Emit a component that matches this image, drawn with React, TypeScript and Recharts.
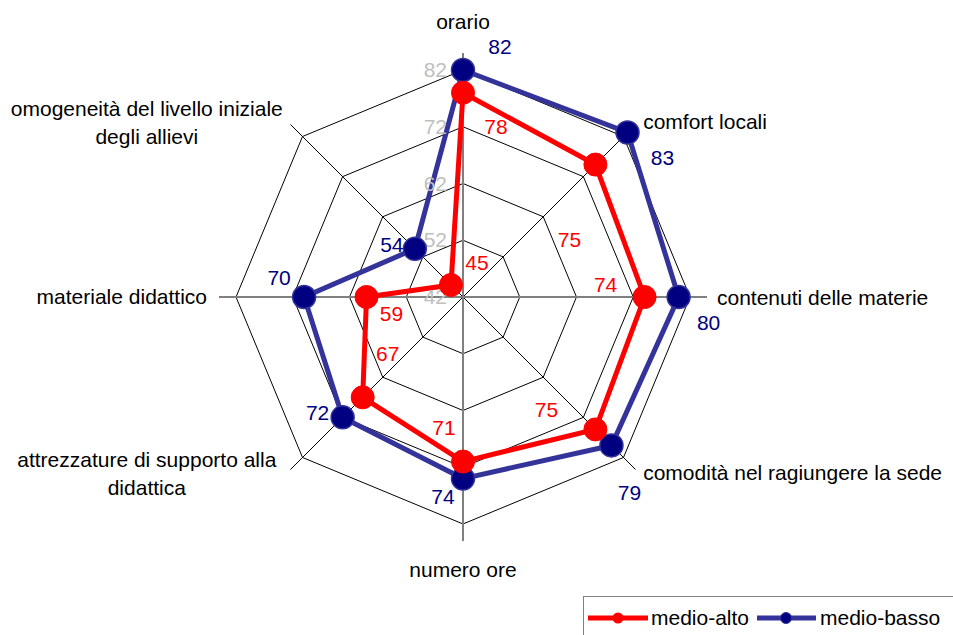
import {
  Legend,
  LabelList,
  PolarAngleAxis,
  PolarGrid,
  PolarRadiusAxis,
  Radar,
  RadarChart,
} from "recharts";

const categories = [
  "orario",
  "comfort locali",
  "contenuti delle materie",
  "comodità nel ragiungere la sede",
  "numero ore",
  "attrezzature di supporto alla\ndidattica",
  "materiale didattico",
  "omogeneità del livello iniziale\ndegli allievi",
];
const medioAlto = [78, 75, 74, 75, 71, 67, 59, 45];
const medioBasso = [82, 83, 80, 79, 74, 72, 70, 54];
const radiusTicks = [42, 52, 62, 72, 82];

const data = categories.map((category, i) => ({
  category,
  medioAlto: medioAlto[i],
  medioBasso: medioBasso[i],
}));

const FONT = "Arial, 'Liberation Sans', sans-serif";
const RED = "#FF0000";
const BLUE = "#333399";
const NAVY = "#000080";

// where each category label sits relative to the axis end
const catLayout = [
  { anchor: "middle", dx: 0, dy: -23 },
  { anchor: "start", dx: 2, dy: 3 },
  { anchor: "start", dx: 2, dy: 1 },
  { anchor: "start", dx: 2, dy: -2 },
  { anchor: "middle", dx: 0, dy: 21 },
  { anchor: "middle", dx: -138, dy: -1 },
  { anchor: "end", dx: -4, dy: 0 },
  { anchor: "middle", dx: -138, dy: 4 },
];

// data label offsets from each point
const redOffsets = [
  [33, 34], [-26, 75], [-39, -12], [-49, -19], [-19, -34], [25, -43], [25, 17], [26, -22],
];
const blueOffsets = [
  [37, -23], [35, 26], [30, 26], [18, 48], [-20, 18], [-25, -4], [-25, -19], [-23, -4],
];

function AngleTick(props: any) {
  const { x, y, payload, index } = props;
  const l = catLayout[index] ?? { anchor: "middle", dx: 0, dy: 0 };
  const lines = String(payload.value).split("\n");
  const lh = 28;
  const top = y + l.dy - ((lines.length - 1) * lh) / 2 + 7;
  return (
    <text textAnchor={l.anchor} fontSize={21} fill="#000" fontFamily={FONT}>
      {lines.map((ln, k) => (
        <tspan key={k} x={x + l.dx} y={top + k * lh}>
          {ln}
        </tspan>
      ))}
    </text>
  );
}

function RadiusTick(props: any) {
  const { x, y, payload } = props;
  return (
    <text x={x - 16} y={y + 7} textAnchor="end" fill="#C0C0C0" fontSize={21} fontFamily={FONT}>
      {payload.value}
    </text>
  );
}

const makeLabel = (offsets: number[][], color: string) => (props: any) => {
  const { value, index } = props;
  const x = props.x ?? props.viewBox?.x;
  const y = props.y ?? props.viewBox?.y;
  const off = offsets[index] ?? [0, 0];
  return (
    <text
      x={x + off[0]}
      y={y + off[1] + 7}
      textAnchor="middle"
      fill={color}
      fontSize={21}
      fontFamily={FONT}
    >
      {value}
    </text>
  );
};

function LegendBox() {
  return (
    <svg width={380} height={45} style={{ display: "block" }}>
      <line x1={0.5} y1={0} x2={0.5} y2={45} stroke="#808080" />
      <line x1={0} y1={0.5} x2={380} y2={0.5} stroke="#808080" />
      <line x1={5} y1={22} x2={65} y2={22} stroke={RED} strokeWidth={5} />
      <circle cx={35} cy={22} r={5.5} fill={RED} />
      <text x={68} y={29} fontSize={21} fontFamily={FONT} fill="#000">
        medio-alto
      </text>
      <line x1={174} y1={22} x2={233} y2={22} stroke={BLUE} strokeWidth={5} />
      <circle cx={203} cy={22} r={5.5} fill={NAVY} stroke={BLUE} />
      <text x={237} y={29} fontSize={21} fontFamily={FONT} fill="#000">
        medio-basso
      </text>
    </svg>
  );
}

export default function App() {
  return (
    <div style={{ position: "absolute", left: 0, top: 0, width: 953, height: 635, background: "#fff" }}>
      <RadarChart
        width={953}
        height={635}
        data={data}
        cx={463}
        cy={297}
        outerRadius={244}
        startAngle={90}
        endAngle={-270}
        margin={{ top: 0, right: 0, bottom: 0, left: 0 }}
      >
        <PolarGrid gridType="polygon" stroke="#000" strokeWidth={1} strokeOpacity={1} />
        <PolarGrid
          gridType="polygon"
          polarAngles={[90, 0, -90, -180]}
          polarRadius={[]}
          stroke="#808080"
          strokeWidth={2}
          strokeOpacity={1}
        />
        <PolarAngleAxis
          dataKey="category"
          axisLine={false}
          tickLine={false}
          tick={<AngleTick />}
        />
        <PolarRadiusAxis
          angle={90}
          type="number"
          domain={[42, 85]}
          ticks={radiusTicks}
          axisLine={false}
          tickLine={false}
          tick={<RadiusTick />}
        />
        <Radar
          name="medio-basso"
          dataKey="medioBasso"
          stroke={BLUE}
          strokeWidth={5}
          fill="none"
          fillOpacity={0}
          dot={{ r: 11.5, fill: NAVY, stroke: BLUE, strokeWidth: 1.5, fillOpacity: 1 }}
          isAnimationActive={false}
        >
          <LabelList dataKey="medioBasso" content={makeLabel(blueOffsets, NAVY)} />
        </Radar>
        <Radar
          name="medio-alto"
          dataKey="medioAlto"
          stroke={RED}
          strokeWidth={5}
          fill="none"
          fillOpacity={0}
          dot={{ r: 11.5, fill: RED, stroke: RED, strokeWidth: 1, fillOpacity: 1 }}
          isAnimationActive={false}
        >
          <LabelList dataKey="medioAlto" content={makeLabel(redOffsets, RED)} />
        </Radar>
        <Legend
          content={() => <LegendBox />}
          wrapperStyle={{ left: 583, top: 596, width: 380, height: 45 }}
        />
      </RadarChart>
    </div>
  );
}
